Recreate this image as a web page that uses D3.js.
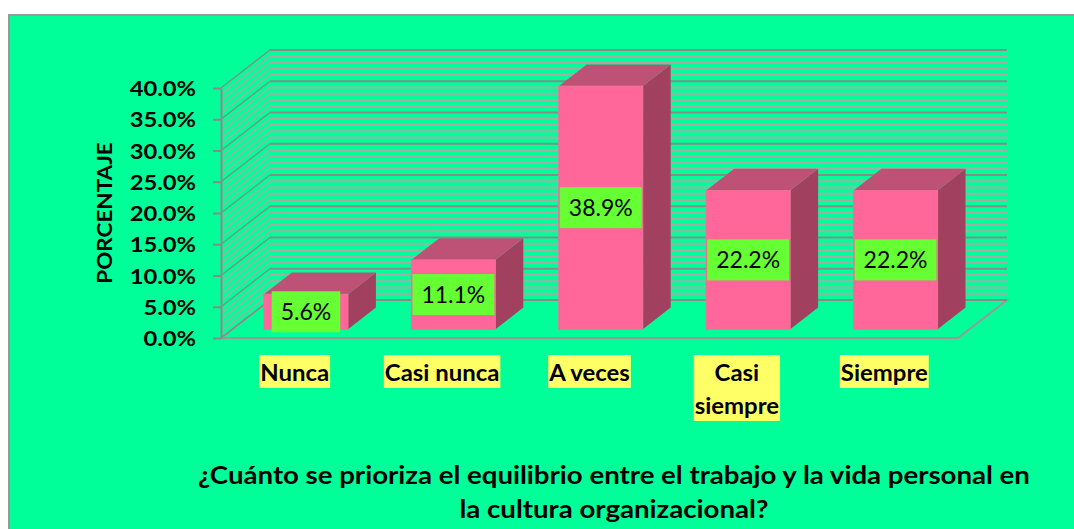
<!DOCTYPE html>
<html>
<head>
<meta charset="utf-8">
<title>Equilibrio trabajo / vida personal</title>
<style type="text/css">
	body{ margin:0; background:#fff; }
	svg text{ font-family: Lato, "Open Sans", sans-serif; }
</style>
</head>
<body>
<div id="chart"></div>
<script src="https://cdn.jsdelivr.net/npm/d3@7/dist/d3.min.js"></script>
<script>
	// data
	var categories = ['Nunca', 'Casi nunca', 'A veces', 'Casi siempre', 'Siempre'];
	var labelLines = [['Nunca'], ['Casi nunca'], ['A veces'], ['Casi', 'siempre'], ['Siempre']];
	var values = [5.6, 11.1, 38.9, 22.2, 22.2];
	var yTicks = [0, 5, 10, 15, 20, 25, 30, 35, 40];
	var yTitle = 'PORCENTAJE';
	var titleLines = ['¿Cuánto se prioriza el equilibrio entre el trabajo y la vida personal en',
		'la cultura organizacional?'];

	var W = 1074, H = 529;
	var DX = 49, DY = -38;          // depth of the 3d box
	var f0 = 0.23, f1 = 0.80;       // bar front / back depth

	// widen text a bit (original font is a stretched Calibri)
	function stretch(sel, k){
		sel.each(function(){
			var n = this;
			var w = n.getComputedTextLength();
			d3.select(n).attr('textLength', w * k).attr('lengthAdjust', 'spacingAndGlyphs');
		});
	}

	var svg = d3.select('#chart').append('svg')
		.attr('width', W).attr('height', H);

	svg.append('rect')
		.attr('x', 9).attr('y', 15).attr('width', W + 20).attr('height', H + 20)
		.attr('fill', '#00FF99').attr('stroke', '#999').attr('stroke-width', 2);

	var x = d3.scaleBand().domain(categories).range([221, 958]);
	var y = d3.scaleLinear().domain([0, 40]).range([338, 88]);

	var x0 = x.range()[0], x1 = x.range()[1];
	var yb = y(0);

	var g = svg.append('g');

	// floor
	g.append('polygon')
		.attr('points', [[x0, yb], [x1, yb], [x1 + DX, yb + DY], [x0 + DX, yb + DY]].join(' '))
		.attr('fill', '#00FF99').attr('stroke', '#999').attr('stroke-width', 2);

	// walls: 1% stripes, darker on every tick
	var stripes = d3.range(0, 41, 1);
	g.selectAll('.back').data(stripes).enter().append('line')
		.attr('class', 'back')
		.attr('x1', x0 + DX).attr('x2', x1 + DX)
		.attr('y1', function(d){ return y(d) + DY; })
		.attr('y2', function(d){ return y(d) + DY; })
		.attr('stroke', function(d){ return d % 5 === 0 ? '#8a8a8a' : '#a9a9a9'; })
		.attr('stroke-width', 2);
	g.selectAll('.side').data(stripes).enter().append('line')
		.attr('class', 'side')
		.attr('x1', x0).attr('x2', x0 + DX)
		.attr('y1', function(d){ return y(d); })
		.attr('y2', function(d){ return y(d) + DY; })
		.attr('stroke', function(d){ return d % 5 === 0 ? '#8a8a8a' : '#a9a9a9'; })
		.attr('stroke-width', 1.5);

	// axis
	var axis = d3.axisLeft(y).tickValues(yTicks).tickSize(8).tickSizeOuter(0)
		.tickFormat(function(d){ return d.toFixed(1) + '%'; });
	var ax = svg.append('g').attr('transform', 'translate(' + x0 + ',0)').call(axis);
	ax.select('.domain').attr('stroke', '#8a8a8a').attr('stroke-width', 2);
	ax.selectAll('.tick line').attr('stroke', '#8a8a8a').attr('stroke-width', 2);
	ax.selectAll('.tick text')
		.attr('x', -25).attr('dy', '0.36em')
		.style('font-family', 'Lato').style('font-size', '21px').style('font-weight', 'bold')
		.attr('fill', '#000');
	stretch(ax.selectAll('.tick text'), 1.13);

	var yt = svg.append('text')
		.attr('transform', 'translate(112,213) rotate(-90)')
		.attr('text-anchor', 'middle')
		.style('font-size', '21px').style('font-weight', 'bold')
		.text(yTitle);
	stretch(yt, 1.07);

	// bars
	var bw = x.bandwidth() * 0.57;
	function px(i, f){ return x(categories[i]) + x.bandwidth() / 2 + f * DX; }
	function py(v, f){ return y(v) + f * DY; }

	var bars = svg.selectAll('.bar').data(values).enter().append('g').attr('class', 'bar');
	bars.append('polygon')  // side
		.attr('points', function(d, i){
			var r0 = px(i, f0) + bw / 2, r1 = px(i, f1) + bw / 2;
			return [[r0, py(0, f0)], [r1, py(0, f1)], [r1, py(d, f1)], [r0, py(d, f0)]].join(' ');
		})
		.attr('fill', '#A2405F');
	bars.append('polygon')  // top
		.attr('points', function(d, i){
			var a = px(i, f0), b = px(i, f1);
			return [[a - bw / 2, py(d, f0)], [a + bw / 2, py(d, f0)], [b + bw / 2, py(d, f1)], [b - bw / 2, py(d, f1)]].join(' ');
		})
		.attr('fill', '#BE5276');
	bars.append('rect')     // front
		.attr('x', function(d, i){ return px(i, f0) - bw / 2; })
		.attr('y', function(d){ return py(d, f0); })
		.attr('width', bw)
		.attr('height', function(d){ return py(0, f0) - py(d, f0); })
		.attr('fill', '#FF6699').attr('stroke', '#f07098').attr('stroke-width', 1);

	// value labels
	bars.each(function(d, i){
		var b = d3.select(this);
		var cx = px(i, f0), cy = (py(d, f0) + py(0, f0)) / 2;
		var box = b.append('rect').attr('fill', '#66FF33');
		var t = b.append('text')
			.attr('x', cx).attr('y', cy).attr('dy', '0.36em')
			.attr('text-anchor', 'middle')
			.style('font-size', '23px')
			.text(d.toFixed(1) + '%');
		var w = Math.min(bw, t.node().getComputedTextLength() + 18);
		box.attr('x', cx - w / 2).attr('y', cy - 20.5).attr('width', w).attr('height', 41);
	});

	// category labels
	var cats = svg.selectAll('.cat').data(labelLines).enter().append('g').attr('class', 'cat');
	cats.each(function(lines, i){
		var c = d3.select(this);
		var cx = x(categories[i]) + x.bandwidth() / 2;
		var box = c.append('rect').attr('fill', '#FFFF66');
		var maxw = 0;
		lines.forEach(function(s, k){
			var t = c.append('text')
				.attr('x', cx).attr('y', 381 + k * 33)
				.attr('text-anchor', 'middle')
				.style('font-size', '23px').style('font-weight', 'bold')
				.text(s);
			stretch(t, 1.04);
			maxw = Math.max(maxw, +t.attr('textLength'));
		});
		box.attr('x', cx - maxw / 2 - 1).attr('y', 355)
			.attr('width', maxw + 2).attr('height', 33 * lines.length);
	});

	// title
	var tt = svg.selectAll('.title').data(titleLines).enter().append('text')
		.attr('class', 'title')
		.attr('x', 614).attr('y', function(d, i){ return 484 + i * 34; })
		.attr('text-anchor', 'middle')
		.style('font-size', '24px').style('font-weight', 'bold')
		.text(function(d){ return d; });
	stretch(tt, 1.15);
</script>
</body>
</html>
